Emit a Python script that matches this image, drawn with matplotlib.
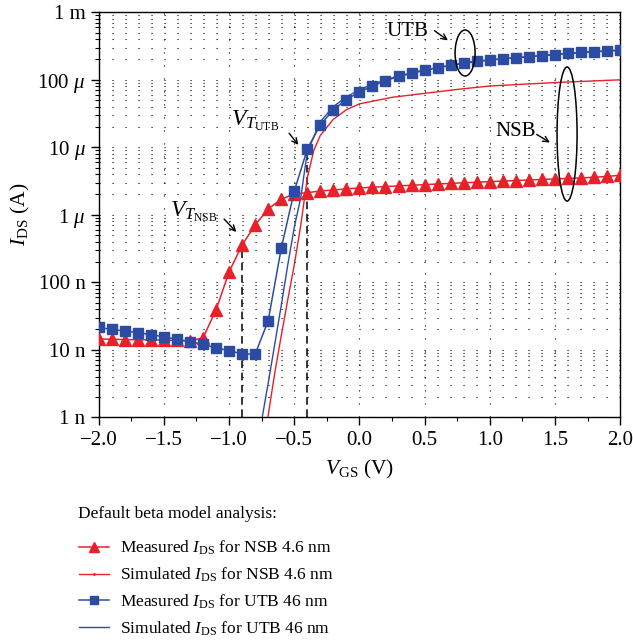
import numpy as np
import matplotlib
matplotlib.use('Agg')
import matplotlib.pyplot as plt
from matplotlib.lines import Line2D
from matplotlib.patches import Ellipse
from matplotlib.ticker import MultipleLocator, LogLocator, NullFormatter

plt.rcParams['font.family'] = ['Liberation Serif', 'DejaVu Serif']
plt.rcParams['mathtext.fontset'] = 'custom'
plt.rcParams['mathtext.rm'] = 'Liberation Serif'
plt.rcParams['mathtext.it'] = 'Liberation Serif:italic'
plt.rcParams['mathtext.bf'] = 'Liberation Serif:bold'

RED = '#e8202a'
BLUE = '#2c4ca3'

# ---- data ----
vgs_meas = np.round(np.arange(-2.0, 2.001, 0.1), 2)

ids_nsb_meas = [14.5e-9, 14.3e-9, 14.2e-9, 14.1e-9, 14.0e-9, 13.9e-9, 13.8e-9, 13.6e-9,
                15e-9, 39e-9, 143e-9, 357e-9, 707e-9, 1.22e-6, 1.70e-6, 2.04e-6,
                2.13e-6, 2.25e-6, 2.33e-6, 2.42e-6, 2.50e-6, 2.56e-6, 2.62e-6, 2.68e-6,
                2.74e-6, 2.80e-6, 2.86e-6, 2.92e-6, 2.98e-6, 3.04e-6, 3.10e-6, 3.16e-6,
                3.22e-6, 3.28e-6, 3.34e-6, 3.40e-6, 3.46e-6, 3.52e-6, 3.60e-6, 3.70e-6,
                3.85e-6]

ids_utb_meas = [21.5e-9, 20e-9, 19e-9, 18e-9, 16.7e-9, 15.6e-9, 14.3e-9, 13.2e-9,
                12.0e-9, 10.7e-9, 9.7e-9, 8.7e-9, 8.6e-9, 27e-9, 318e-9, 2.24e-6,
                9.4e-6, 21.5e-6, 36e-6, 51e-6, 66e-6, 81e-6, 97e-6, 112e-6,
                125e-6, 138e-6, 152e-6, 163e-6, 178e-6, 190e-6, 196e-6, 205e-6,
                213e-6, 219e-6, 228e-6, 236e-6, 246e-6, 255e-6, 262e-6, 268e-6,
                274e-6]

vgs_nsb_sim = [-0.71, -0.65, -0.60, -0.55, -0.50, -0.45, -0.40, -0.35, -0.30, -0.20,
               -0.10, 0.0, 0.25, 0.5, 0.75, 1.0, 1.5, 2.0]
ids_nsb_sim = [0.8e-9, 4.5e-9, 1.6e-8, 5.5e-8, 1.8e-7, 7.0e-7, 3.5e-6, 9.0e-6, 1.5e-5,
               2.6e-5, 3.6e-5, 4.4e-5, 5.5e-5, 6.3e-5, 7.2e-5, 8.1e-5, 9.1e-5, 1.0e-4]

vgs_utb_sim = [-0.76, -0.70, -0.65, -0.60, -0.55, -0.50, -0.45, -0.40, -0.30, -0.20,
               -0.10, 0.0, 0.1, 0.2, 0.3, 0.5, 0.75, 1.0, 1.5, 2.0]
ids_utb_sim = [0.7e-9, 3.2e-9, 1.2e-8, 4.5e-8, 1.8e-7, 6.5e-7, 1.8e-6, 8.5e-6, 2.4e-5,
               4.0e-5, 5.6e-5, 7.1e-5, 8.6e-5, 1.0e-4, 1.14e-4, 1.40e-4, 1.70e-4,
               1.97e-4, 2.37e-4, 2.75e-4]

vt_nsb, vt_nsb_ids = -0.9, 357e-9
vt_utb, vt_utb_ids = -0.4, 9.4e-6

y_ticks = [1e-9, 1e-8, 1e-7, 1e-6, 1e-5, 1e-4, 1e-3]
y_ticklabels = ['1 n', '10 n', '100 n', r'1 $\mu$', r'10 $\mu$', r'100 $\mu$', '1 m']
x_ticks = [-2.0, -1.5, -1.0, -0.5, 0.0, 0.5, 1.0, 1.5, 2.0]

legend_title = 'Default beta model analysis:'
legend_labels = [
    r'Measured $I_{\mathrm{DS}}$ for NSB 4.6 nm',
    r'Simulated $I_{\mathrm{DS}}$ for NSB 4.6 nm',
    r'Measured $I_{\mathrm{DS}}$ for UTB 46 nm',
    r'Simulated $I_{\mathrm{DS}}$ for UTB 46 nm',
]

# ---- figure ----
fig = plt.figure(figsize=(6.33, 6.44), dpi=100)
ax = fig.add_axes([0.156, 0.352, 0.8236, 0.6289])
ax.set_yscale('log')
ax.set_xlim(-2.0, 2.0)
ax.set_ylim(1e-9, 1e-3)

# dotted grid
ax.yaxis.set_minor_locator(LogLocator(base=10, subs=np.arange(2, 10)))
ax.yaxis.set_minor_formatter(NullFormatter())
ax.xaxis.set_minor_locator(MultipleLocator(0.25))
ax.grid(True, which='both', axis='y', color='k', lw=0.8, linestyle=(0, (1.0, 10.7)))
ax.grid(True, which='major', axis='x', color='k', lw=0.8, linestyle=(0, (1.0, 10.7)))

# curves
ax.plot(vgs_nsb_sim, ids_nsb_sim, color=RED, lw=1.0, zorder=3)
ax.plot(vgs_utb_sim, ids_utb_sim, color=BLUE, lw=1.0, zorder=3)
ax.plot(vgs_meas, ids_nsb_meas, color=RED, lw=1.1, marker='^', ms=8.5, zorder=4)
ax.plot(vgs_meas, ids_utb_meas, color=BLUE, lw=1.1, marker='s', ms=6.5, zorder=4)

# threshold markers
ax.plot([vt_nsb, vt_nsb], [1e-9, vt_nsb_ids], color='k', lw=1.1, ls=(0, (5, 3)), zorder=2)
ax.plot([vt_utb, vt_utb], [1e-9, vt_utb_ids], color='k', lw=1.1, ls=(0, (5, 3)), zorder=2)

# annotations
arrow = dict(arrowstyle='->', color='k', lw=1.0)
ax.text(-0.80, 2.45e-5, r'$V_{T_{\mathrm{UTB}}}$', fontsize=17, ha='center', va='center')
ax.annotate('', xy=(-0.455, 1.01e-5), xytext=(-0.553, 1.74e-5), arrowprops=arrow)
ax.text(-1.268, 1.10e-6, r'$V_{T_{\mathrm{NSB}}}$', fontsize=17, ha='center', va='center')
ax.annotate('', xy=(-0.93, 5.2e-7), xytext=(-1.053, 9.27e-7), arrowprops=arrow)
ax.text(0.367, 5.28e-4, 'UTB', fontsize=15, ha='center', va='center')
ax.annotate('', xy=(0.696, 3.63e-4), xytext=(0.558, 5.66e-4), arrowprops=arrow)
ax.text(1.196, 1.74e-5, 'NSB', fontsize=15, ha='center', va='center')
ax.annotate('', xy=(1.48, 1.12e-5), xytext=(1.342, 1.63e-5), arrowprops=arrow)
ax.add_patch(Ellipse((0.7027, 0.8995), 0.0384, 0.1136, transform=ax.transAxes,
                     fill=False, ec='k', lw=1.1, zorder=5))
ax.add_patch(Ellipse((0.8983, 0.6995), 0.0384, 0.331, transform=ax.transAxes,
                     fill=False, ec='k', lw=1.1, zorder=5))

# ticks / labels
ax.set_yticks(y_ticks)
ax.set_yticklabels(y_ticklabels)
ax.set_xticks(x_ticks)
ax.set_xticklabels(['\u2212%.1f' % abs(v) if v < 0 else '%.1f' % v for v in x_ticks])
ax.tick_params(which='major', direction='out', length=6, width=1.0, labelsize=15)
ax.tick_params(which='minor', direction='out', length=3, width=0.8)
for s in ax.spines.values():
    s.set_linewidth(1.0)
ax.set_xlabel(r'$V_{\mathrm{GS}}$ (V)', fontsize=15.5, labelpad=6)
ax.set_ylabel(r'$I_{\mathrm{DS}}$ (A)', fontsize=15.5, labelpad=4)

# legend
handles = [
    Line2D([], [], color=RED, lw=1.1, marker='^', ms=7),
    Line2D([], [], color=RED, lw=1.0, marker='.', ms=2),
    Line2D([], [], color=BLUE, lw=1.1, marker='s', ms=6),
    Line2D([], [], color=BLUE, lw=1.0),
]
fig.text(78 / 633, 1 - 514 / 644, legend_title, fontsize=12.5, ha='left', va='center')
fig.legend(handles, legend_labels, loc='upper left',
           bbox_to_anchor=(79 / 633, 1 - 539 / 644),
           frameon=False, fontsize=12.5, handlelength=1.75, handletextpad=0.6,
           labelspacing=0.48, borderaxespad=0, borderpad=0)

fig.savefig('out.png', dpi=100)
